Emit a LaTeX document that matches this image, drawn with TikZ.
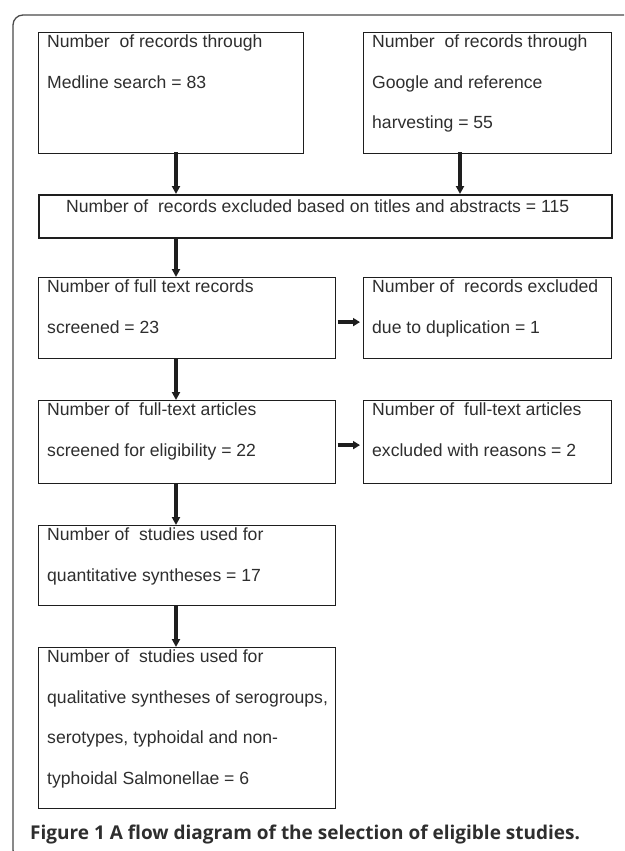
\documentclass[tikz,border=0pt]{standalone}
\usepackage{fontspec}
\setmainfont{Liberation Sans}
\newfontfamily\capfont{Open Sans}
\usetikzlibrary{arrows.meta}
\definecolor{ink}{HTML}{1E1E1E}
\definecolor{txtc}{HTML}{2E2E2E}
\definecolor{framec}{HTML}{4A4A4A}
\tikzset{
  box/.style={draw=ink, line width=1.2pt, rectangle, inner sep=0pt, anchor=north west},
  thickbox/.style={box, line width=2pt},
  txt/.style={text=txtc, inner sep=0pt, anchor=north west, align=left,
    font=\fontsize{17.6}{40.5}\selectfont},
  varr/.style={draw=ink, line width=3.2pt, -{Triangle[width=8pt,length=8pt]}},
  harr/.style={draw=ink, line width=3.6pt, -{Triangle[width=8pt,length=7pt]}, shorten >=3pt, shorten <=1.5pt},
}
\begin{document}
\begin{tikzpicture}[x=1pt,y=-1pt]
\useasboundingbox (0,0) rectangle (624,851);
\fill[white] (0,0) rectangle (624,851);
\begin{scope}
\clip (0,0) rectangle (624,851);
\draw[framec, line width=1.3pt, rounded corners=10pt] (13,15) rectangle (660,860);
\end{scope}

\coordinate (xl) at (176,0);
\coordinate (xr) at (460,0);

\node[box, minimum width=265pt, minimum height=121pt] (b1) at (38,32) {};
\node[box, minimum width=248pt, minimum height=121pt] (b2) at (363,32) {};
\node[thickbox, minimum width=573pt, minimum height=43pt] (b3) at (38,194) {};
\node[box, minimum width=297pt, minimum height=81pt] (b4) at (38,277) {};
\node[box, minimum width=248pt, minimum height=81pt] (b5) at (363,277) {};
\node[box, minimum width=297pt, minimum height=83pt] (b6) at (38,400) {};
\node[box, minimum width=248pt, minimum height=83pt] (b7) at (363,400) {};
\node[box, minimum width=297pt, minimum height=80pt] (b8) at (38,525) {};
\node[box, minimum width=297pt, minimum height=161pt] (b9) at (38,647) {};

\node[txt] (t1) at ([shift={(9,3)}]b1.north west) {Number\ \ of records through\\Medline search = 83};
\node[txt] (t2) at ([shift={(9,3)}]b2.north west) {Number\ \ of records through\\Google and reference\\harvesting = 55};
\node[txt] (t3) at ([shift={(28,6)}]b3.north west) {Number of\ \ records excluded based on titles and abstracts = 115};
\node[txt] (t4) at ([shift={(9,3)}]b4.north west) {Number of full text records\\screened = 23};
\node[txt] (t5) at ([shift={(9,3)}]b5.north west) {Number of\ \ records excluded\\due to duplication = 1};
\node[txt] (t6) at ([shift={(9,3)}]b6.north west) {Number of\ \ full-text articles\\screened for eligibility = 22};
\node[txt] (t7) at ([shift={(9,3)}]b7.north west) {Number of\ \ full-text articles\\excluded with reasons = 2};
\node[txt] (t8) at ([shift={(9,3)}]b8.north west) {Number of\ \ studies used for\\quantitative syntheses = 17};
\node[txt] (t9) at ([shift={(9,3)}]b9.north west) {Number of\ \ studies used for\\qualitative syntheses of serogroups,\\serotypes, typhoidal and non-\\typhoidal Salmonellae = 6};

\draw[varr] ([yshift=2pt]b1.south -| xl) -- (b3.north -| xl);
\draw[varr] ([yshift=2pt]b2.south -| xr) -- (b3.north -| xr);
\draw[varr] (b3.south -| xl) -- (b4.north -| xl);
\draw[varr] (b4.south -| xl) -- (b6.north -| xl);
\draw[varr] (b6.south -| xl) -- (b8.north -| xl);
\draw[varr] (b8.south -| xl) -- (b9.north -| xl);
\draw[harr] ([yshift=-4pt]b4.east) -- ([yshift=-4pt]b5.west);
\draw[harr] ([yshift=-3pt]b6.east) -- ([yshift=-3pt]b7.west);

\node[anchor=base west, inner sep=0pt, text=txtc, font=\capfont\bfseries\fontsize{19}{22}\selectfont] (cap) at (30,839) {Figure 1 A flow diagram of the selection of eligible studies.};
\end{tikzpicture}
\end{document}
